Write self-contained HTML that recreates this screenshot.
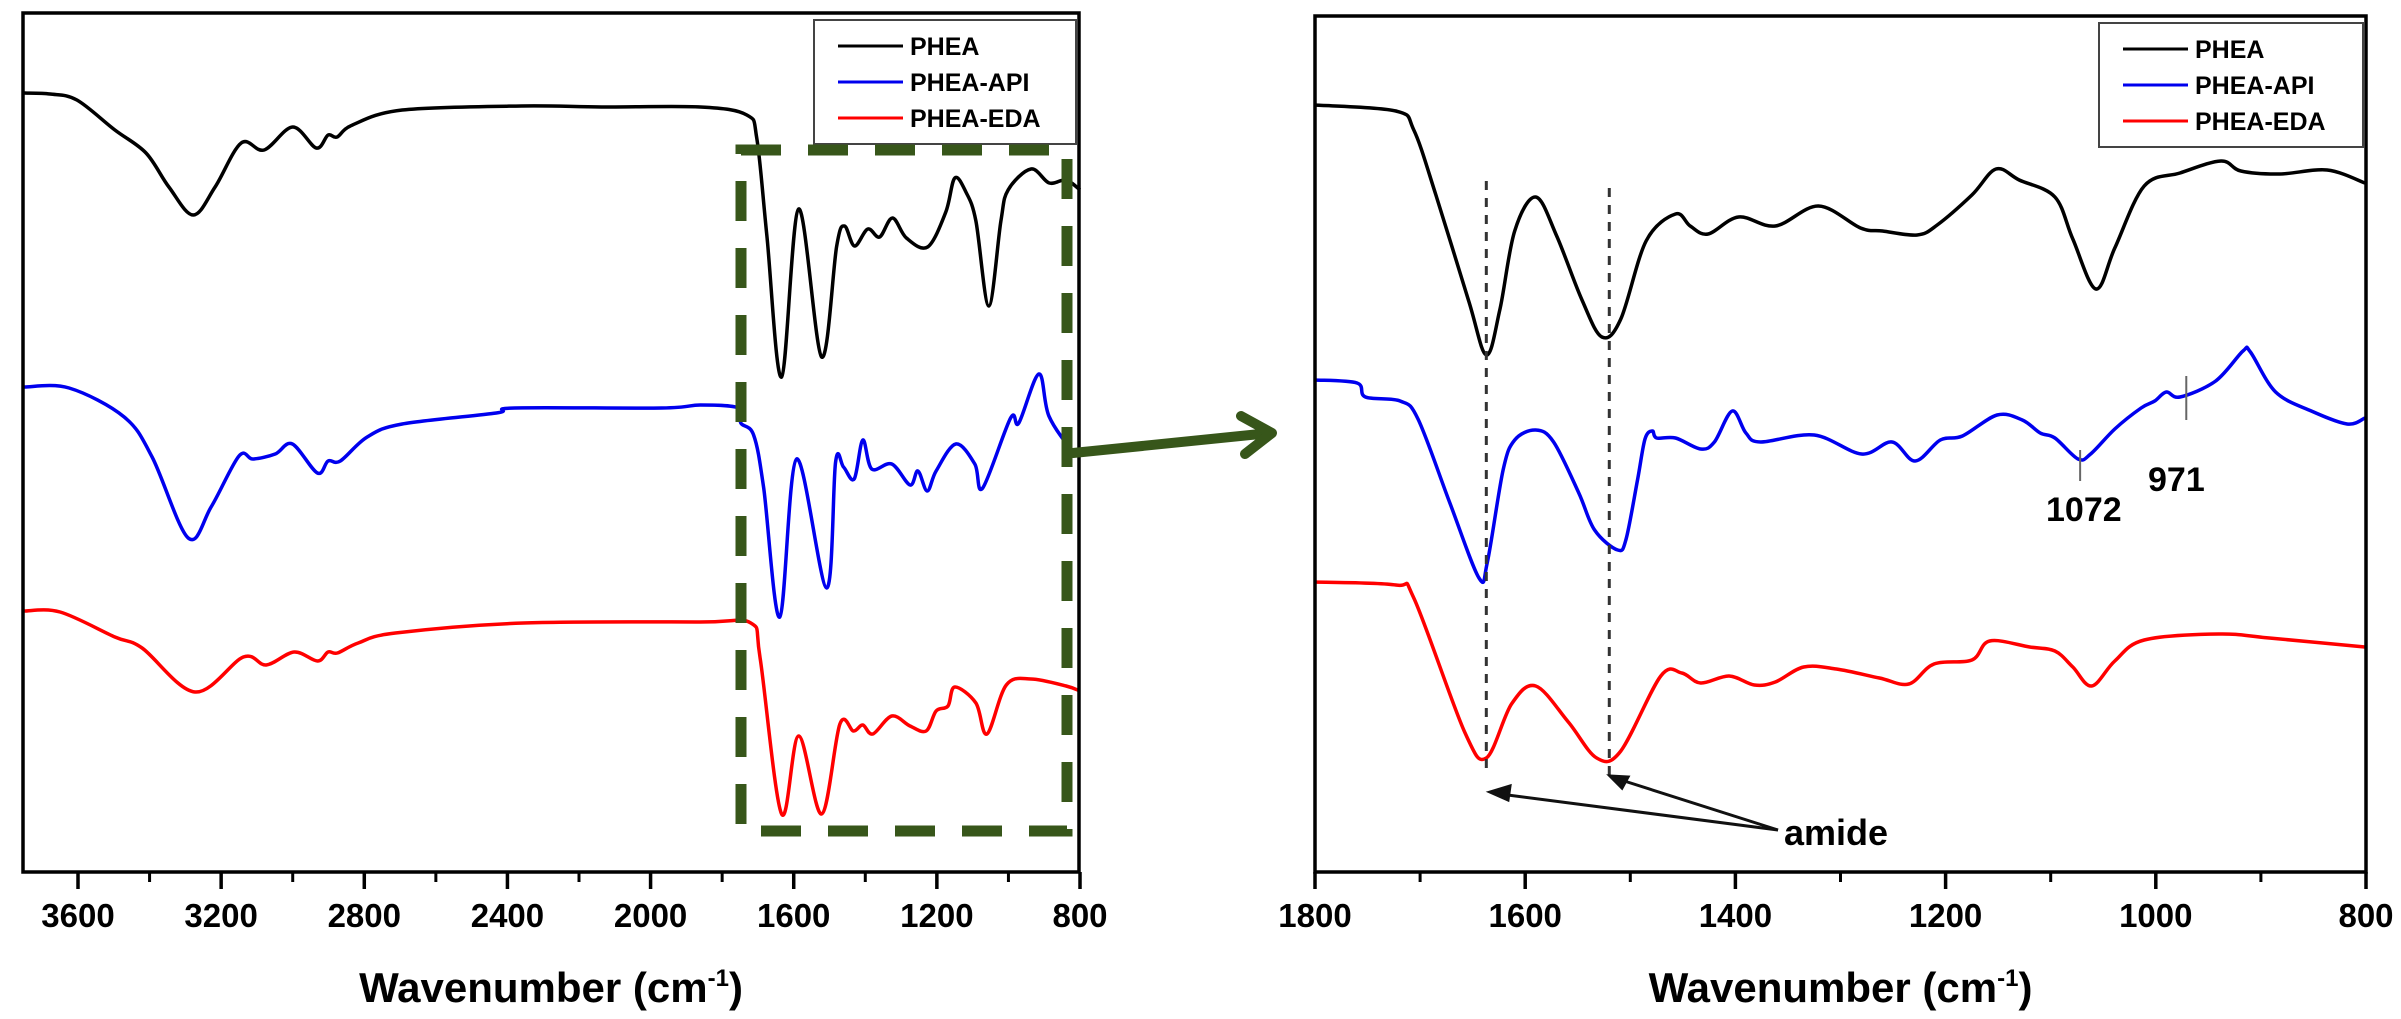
<!DOCTYPE html>
<html><head><meta charset="utf-8"><style>
html,body{margin:0;padding:0;background:#fff;}
svg{display:block;}
text{font-family:"Liberation Sans",Arial,sans-serif;font-weight:bold;}
</style></head><body>
<svg id="chart" width="2401" height="1019" viewBox="0 0 2401 1019" xmlns="http://www.w3.org/2000/svg">
<g id="left"></g>
<g id="right"></g>
</svg>
<script>
// ---- data (wavenumber cm-1, transmittance a.u.) ----
const leftBlackW = [3751,3678,3603,3497,3410,3346,3278,3217,3144,3080,3000,2934,2901,2876,2833,2694,2361,2137,1861,1731,1703,1675,1634,1586,1522,1480,1458,1430,1393,1360,1324,1285,1226,1175,1150,1119,1091,1055,1021,1001,937,886,839,800];
const leftBlackT = [77.9,77.8,77.2,74.2,71.9,68.5,65.7,68.5,72.9,72.2,74.5,72.4,73.7,73.5,74.7,76.2,76.6,76.5,76.5,75.7,73.3,63.6,49.5,66.3,51.5,62.6,64.6,62.6,64.3,63.5,65.4,63.4,62.5,66.0,69.4,68.0,65.1,56.6,65.1,68.2,70.3,68.9,69.2,68.2];
const leftBlueW = [3751,3625,3471,3393,3292,3228,3150,3111,3049,3001,2931,2901,2867,2792,2694,2431,2380,1969,1861,1754,1748,1712,1684,1639,1592,1508,1483,1461,1431,1407,1382,1326,1275,1253,1227,1202,1147,1094,1072,994,971,915,887,822,800];
const leftBlueT = [48.5,48.4,45.5,41.5,33.4,36.5,41.6,41.3,41.8,42.8,39.9,41.1,41.1,43.5,44.8,45.9,46.4,46.4,46.7,46.4,44.9,43.7,38.4,25.5,41.3,28.4,41.0,40.5,39.3,43.2,40.3,40.8,38.7,40.1,38.1,40.1,42.8,40.8,38.4,45.4,44.9,49.8,45.6,42.2,42.3];
const leftRedW = [3751,3650,3497,3421,3273,3138,3074,2996,2931,2901,2875,2817,2713,2355,1861,1720,1694,1634,1586,1522,1471,1433,1407,1379,1326,1275,1230,1202,1169,1150,1091,1060,1006,937,839,800];
const leftRedT = [26.1,26.0,23.5,22.4,18.0,21.5,20.7,22.0,21.1,22.0,21.9,22.9,23.9,24.9,25.0,24.9,21.4,5.8,13.6,5.8,14.8,14.1,14.7,13.8,15.6,14.6,14.1,16.1,16.6,18.5,16.9,13.8,18.7,19.3,18.6,18.1];

const rightBlackW = [1800,1723,1706,1685,1654,1637,1624,1610,1590,1570,1546,1527,1509,1485,1457,1443,1426,1397,1362,1321,1281,1260,1227,1208,1175,1152,1130,1096,1079,1057,1039,1011,977,938,919,882,837,801];
const rightBlackT = [76.7,76.1,74.2,67.7,57.2,51.7,56.3,64.1,67.5,63.6,57.2,53.5,55.3,63.1,65.8,64.6,63.8,65.5,64.6,66.6,64.4,64.1,63.7,64.7,67.7,70.3,69.2,67.5,63.3,58.3,62.4,68.6,69.9,71.1,70.1,69.8,70.2,68.9];
const rightBlueW = [1800,1760,1752,1719,1702,1672,1644,1636,1621,1610,1590,1573,1549,1534,1512,1504,1493,1486,1479,1475,1457,1433,1420,1403,1390,1376,1325,1280,1251,1229,1205,1184,1151,1127,1110,1096,1074,1062,1039,1014,1001,990,977,943,917,910,886,852,818,801];
const rightBlueT = [49.2,48.9,47.5,47.1,45.3,37.0,29.4,31.0,40.2,43.2,44.2,43.0,37.9,34.2,32.2,33.3,39.3,43.3,44.1,43.4,43.4,42.3,43.0,46.1,43.9,43.0,43.7,41.8,43.0,41.1,43.2,43.6,45.7,45.2,43.9,43.4,41.3,41.8,44.3,46.4,47.1,48.0,47.5,49.1,52.1,52.0,48.0,46.1,44.8,45.4];
const rightRedW = [1800,1723,1706,1658,1637,1613,1590,1559,1532,1509,1471,1451,1433,1406,1382,1362,1335,1304,1263,1235,1211,1175,1158,1120,1096,1079,1061,1039,1011,940,892,801];
const rightRedT = [29.0,28.7,27.4,14.1,11.4,16.8,18.6,15.0,11.4,12.1,19.6,19.9,18.9,19.6,18.7,19.0,20.5,20.3,19.4,18.8,20.8,21.2,23.1,22.5,22.1,20.5,18.6,21.1,23.2,23.8,23.4,22.5];

const leftTicks = [3600,3200,2800,2400,2000,1600,1200,800];
const leftMinor = [3400,3000,2600,2200,1800,1400,1000];
const rightTicks = [1800,1600,1400,1200,1000,800];
const rightMinor = [1700,1500,1300,1100,900];
const legendLabels = ['PHEA','PHEA-API','PHEA-EDA'];
const amideBands = [1637,1520];
const markBands = [1072,971];

const NS = 'http://www.w3.org/2000/svg';
function el(tag, attrs, parent){const e=document.createElementNS(NS,tag);for(const k in attrs)e.setAttribute(k,attrs[k]);parent.appendChild(e);return e;}
// axis functions
const xL = w => 78 + (3600 - w) * 0.35786;
const xR = w => 1315 + (1800 - w) * 1.051;
const yS = t => 872 - t * 10;

function smoothPath(W,T,xf){
  const p=W.map((w,i)=>[xf(w),yS(T[i])]);
  let d='M'+p[0][0].toFixed(1)+' '+p[0][1].toFixed(1);
  for(let i=0;i<p.length-1;i++){
    const p0=p[i-1]||p[i],p1=p[i],p2=p[i+1],p3=p[i+2]||p2;
    const c1=[p1[0]+(p2[0]-p0[0])/6,p1[1]+(p2[1]-p0[1])/6];
    const c2=[p2[0]-(p3[0]-p1[0])/6,p2[1]-(p3[1]-p1[1])/6];
    d+=' C'+c1[0].toFixed(1)+' '+c1[1].toFixed(1)+' '+c2[0].toFixed(1)+' '+c2[1].toFixed(1)+' '+p2[0].toFixed(1)+' '+p2[1].toFixed(1);
  }
  return d;
}
const colors=['#000000','#0000ee','#ff0000'];
const names=['phea','phea-api','phea-eda'];

function panel(g, x0, x1, top, xf, ticks, minor, series, legendX){
  // series
  series.forEach((s,i)=>{
    const path=el('path',{d:smoothPath(s[0],s[1],xf),fill:'none',stroke:colors[i],'stroke-width':3.5,'stroke-linejoin':'round'},g);
    
    
  });
  const frame=el('rect',{x:x0,y:top,width:x1-x0,height:872-top,fill:'none',stroke:'#000','stroke-width':3.5},g);
  
  
  ticks.forEach(t=>{
    const tk=el('line',{x1:xf(t),x2:xf(t),y1:872,y2:889,stroke:'#000','stroke-width':3.5},g);
    
    
    const lb=el('text',{x:xf(t),y:927,'text-anchor':'middle','font-size':33,fill:'#000'},g);
    lb.textContent=t;
    
    
  });
  minor.forEach(t=>{
    const tk=el('line',{x1:xf(t),x2:xf(t),y1:872,y2:882,stroke:'#000','stroke-width':3},g);
    
    
  });
  const title=el('text',{x:(x0+x1)/2,y:1002,'text-anchor':'middle','font-size':42,fill:'#000'},g);
  
  
  title.innerHTML='Wavenumber (cm<tspan dy="-16" font-size="24">-1</tspan><tspan dy="16">)</tspan>';
  // legend
  const lg=el('g',{},g);
  
  
  el('rect',{x:legendX,y:top+7,width:x1-legendX-3,height:124,fill:'#fff',stroke:'#444','stroke-width':2},lg);
  legendLabels.forEach((l,i)=>{
    const yy=top+33+i*36;
    const ln=el('line',{x1:legendX+24,x2:legendX+89,y1:yy,y2:yy,stroke:colors[i],'stroke-width':3},lg);
    
    
    const tx=el('text',{x:legendX+96,y:yy+9,'font-size':25,fill:'#000'},lg);
    tx.textContent=l;
    
    
  });
}
const gL=document.getElementById('left'), gR=document.getElementById('right');
panel(gL,23,1079,13,xL,leftTicks,leftMinor,[[leftBlackW,leftBlackT],[leftBlueW,leftBlueT],[leftRedW,leftRedT]],814);
panel(gR,1315,2366,16,xR,rightTicks,rightMinor,[[rightBlackW,rightBlackT],[rightBlueW,rightBlueT],[rightRedW,rightRedT]],2099);

// green dashed box
const box=el('rect',{x:741,y:150,width:326,height:681,fill:'none',stroke:'#37561a','stroke-width':11,'stroke-dasharray':'40 27'},gL);


// green arrow
const ar=el('g',{stroke:'#37561a','stroke-width':10,fill:'none','stroke-linecap':'round','stroke-linejoin':'round'},gL);


el('line',{x1:1073,y1:453,x2:1270,y2:433},ar);
el('polyline',{points:'1241,416 1272,433 1245,454'},ar);

// amide dashed lines
amideBands.forEach((b,i)=>{
  const dl=el('line',{x1:xR(b),x2:xR(b),y1:i?188:181,y2:i?778:770,stroke:'#333','stroke-width':3,'stroke-dasharray':'9 8'},gR);
  
  
});
const am=el('g',{stroke:'#111','stroke-width':3,fill:'#111'},gR);


el('line',{x1:1778,y1:830,x2:1500,y2:794},am);
el('polygon',{points:'1490,792 1510,786 1508,800'},am);
el('line',{x1:1778,y1:830,x2:1618,y2:779},am);
el('polygon',{points:'1610,776 1628,777 1622,788'},am);
const at=el('text',{x:1784,y:845,'font-size':36,fill:'#000'},gR);
at.textContent='amide';



// band marks
const mk=[[450,481,2046,521],[376,420,2148,491]];
markBands.forEach((b,i)=>{
  const m=el('line',{x1:xR(b),x2:xR(b),y1:mk[i][0],y2:mk[i][1],stroke:'#666','stroke-width':2},gR);
  
  
  const t=el('text',{x:mk[i][2],y:mk[i][3],'font-size':34,fill:'#000'},gR);
  t.textContent=b;
  
  
});
</script>
</body></html>
